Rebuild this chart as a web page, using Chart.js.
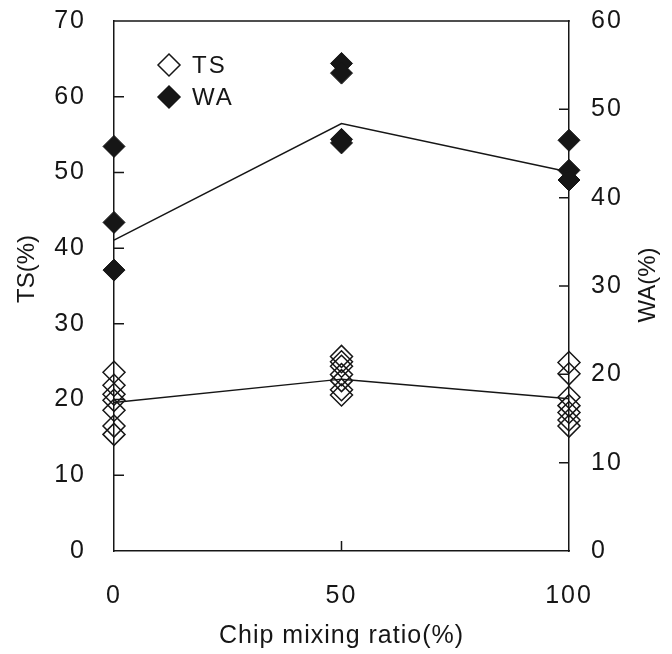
<!DOCTYPE html>
<html>
<head>
<meta charset="utf-8">
<script src="https://cdn.jsdelivr.net/npm/chart.js@4.4.1/dist/chart.umd.min.js"></script>
<style>
  html, body { margin: 0; padding: 0; background: #fff; }
  #grafica { display: block; }
</style>
</head>
<body>
<canvas id="grafica" width="672" height="654"></canvas>
<script>
// proporción de mezcla de astillas (%)
const ratios = [0, 50, 100];

// TS (%) medido en cada proporción
const tsAt0 = [23.6, 21.9, 20.7, 19.9, 18.6, 16.5, 15.4];
const tsAt50 = [25.7, 25.0, 24.4, 23.3, 22.5, 21.3, 20.6];
const tsAt100 = [24.9, 23.4, 20.3, 19.2, 18.3, 17.3, 16.5];

// WA (%) medido en cada proporción
const waAt0 = [45.8, 37.2, 31.8];
const waAt50 = [55.2, 54.1, 46.6, 46.2];
const waAt100 = [46.5, 43.1, 42.0];

// valores de las líneas que unen las proporciones
const tsLine = [19.6, 22.7, 20.1];
const waLine = [35.2, 48.4, 42.9];

// marcas de los ejes
const tsTicks = [10, 20, 30, 40, 50, 60];
const waTicks = [10, 20, 30, 40, 50];
const xTicks = [50];

const FUENTE = "'Liberation Sans', sans-serif";
const NEGRO = '#161616';

// convierte grupos de valores en puntos {x, y}
function puntos(grupos) {
    const salida = [];
    grupos.forEach((valores, i) => {
        valores.forEach(v => salida.push({ x: ratios[i], y: v }));
    });
    return salida;
}

function linea(valores) {
    return ratios.map((x, i) => ({ x: x, y: valores[i] }));
}

// ancho/alto fijo de cada eje, sin relleno extra por las etiquetas
function fijar(tam) {
    return s => {
        if (s.isHorizontal()) {
            s.height = tam;
        } else {
            s.width = tam;
        }
        s.paddingTop = 0;
        s.paddingBottom = 0;
        s.paddingLeft = 0;
        s.paddingRight = 0;
    };
}

// marco superior, marcas hacia dentro, títulos y leyenda
const marco = {
    id: 'marco',
    beforeDraw(chart) {
        chart.ctx.letterSpacing = '2px';
    },
    beforeDatasetsDraw(chart) {
        const { ctx, chartArea: a, scales } = chart;
        ctx.save();
        ctx.strokeStyle = NEGRO;
        ctx.lineWidth = 1.5;
        ctx.beginPath();
        ctx.moveTo(a.left - 0.75, a.top);
        ctx.lineTo(a.right + 0.75, a.top);
        tsTicks.forEach(v => {
            const y = scales.yTS.getPixelForValue(v);
            ctx.moveTo(a.left, y);
            ctx.lineTo(a.left + 10, y);
        });
        waTicks.forEach(v => {
            const y = scales.yWA.getPixelForValue(v);
            ctx.moveTo(a.right, y);
            ctx.lineTo(a.right - 10, y);
        });
        xTicks.forEach(v => {
            const x = scales.x.getPixelForValue(v);
            ctx.moveTo(x, a.bottom);
            ctx.lineTo(x, a.bottom - 10);
        });
        ctx.stroke();
        ctx.restore();
    },
    afterDraw(chart) {
        const { ctx, chartArea: a } = chart;
        ctx.save();
        ctx.fillStyle = NEGRO;
        ctx.font = '25px ' + FUENTE;
        ctx.letterSpacing = '1px';
        ctx.textAlign = 'center';
        ctx.textBaseline = 'middle';

        ctx.fillText('Chip mixing ratio(%)', (a.left + a.right) / 2, 636);

        ctx.font = '24px ' + FUENTE;
        ctx.letterSpacing = '0px';
        ctx.save();
        ctx.translate(27, 269);
        ctx.rotate(-Math.PI / 2);
        ctx.fillText('TS(%)', 0, 0);
        ctx.restore();

        ctx.save();
        ctx.translate(648, 285);
        ctx.rotate(-Math.PI / 2);
        ctx.fillText('WA(%)', 0, 0);
        ctx.restore();

        // leyenda
        const items = [chart.data.datasets[2], chart.data.datasets[3]];
        items.forEach((ds, i) => {
            const cx = 169, cy = 65 + i * 32, r = 11;
            ctx.beginPath();
            ctx.moveTo(cx, cy - r);
            ctx.lineTo(cx + r, cy);
            ctx.lineTo(cx, cy + r);
            ctx.lineTo(cx - r, cy);
            ctx.closePath();
            ctx.fillStyle = ds.backgroundColor === 'transparent' ? '#fff' : ds.backgroundColor;
            ctx.fill();
            ctx.strokeStyle = NEGRO;
            ctx.lineWidth = 1.5;
            ctx.stroke();
            ctx.fillStyle = NEGRO;
            ctx.textAlign = 'left';
            ctx.letterSpacing = '2px';
            ctx.fillText(ds.label, 192, cy + 1);
        });
        ctx.restore();
    }
};

const ejeFuente = { family: FUENTE, size: 25 };

new Chart(document.getElementById('grafica'), {
    type: 'scatter',
    data: {
        datasets: [
            {
                label: 'TS media',
                data: linea(tsLine),
                yAxisID: 'yTS',
                showLine: true,
                borderColor: NEGRO,
                borderWidth: 1.5,
                pointRadius: 0,
                clip: false
            },
            {
                label: 'WA media',
                data: linea(waLine),
                yAxisID: 'yWA',
                showLine: true,
                borderColor: NEGRO,
                borderWidth: 1.5,
                pointRadius: 0,
                clip: false
            },
            {
                label: 'TS',
                data: puntos([tsAt0, tsAt50, tsAt100]),
                yAxisID: 'yTS',
                pointStyle: 'rectRot',
                pointRadius: 11,
                backgroundColor: 'transparent',
                borderColor: NEGRO,
                borderWidth: 1.5,
                clip: false
            },
            {
                label: 'WA',
                data: puntos([waAt0, waAt50, waAt100]),
                yAxisID: 'yWA',
                pointStyle: 'rectRot',
                pointRadius: 11,
                backgroundColor: NEGRO,
                borderColor: NEGRO,
                borderWidth: 1,
                clip: false
            }
        ]
    },
    options: {
        responsive: false,
        animation: false,
        events: [],
        layout: { padding: { top: 21, left: 0, right: 0, bottom: 0 } },
        plugins: {
            legend: { display: false },
            tooltip: { enabled: false }
        },
        scales: {
            x: {
                type: 'linear',
                min: 0,
                max: 100,
                ticks: { stepSize: 50, padding: 30, font: ejeFuente, color: NEGRO, maxRotation: 0 },
                grid: { display: false, drawTicks: false },
                border: { color: NEGRO, width: 1.5 },
                afterFit: fijar(103)
            },
            yTS: {
                type: 'linear',
                position: 'left',
                min: 0,
                max: 70,
                ticks: { stepSize: 10, padding: 28, font: ejeFuente, color: NEGRO },
                grid: { display: false, drawTicks: false },
                border: { color: NEGRO, width: 1.5 },
                afterFit: fijar(114)
            },
            yWA: {
                type: 'linear',
                position: 'right',
                min: 0,
                max: 60,
                ticks: { stepSize: 10, padding: 22, font: ejeFuente, color: NEGRO },
                grid: { display: false, drawTicks: false },
                border: { color: NEGRO, width: 1.5 },
                afterFit: fijar(103)
            }
        }
    },
    plugins: [marco]
});
</script>
</body>
</html>
